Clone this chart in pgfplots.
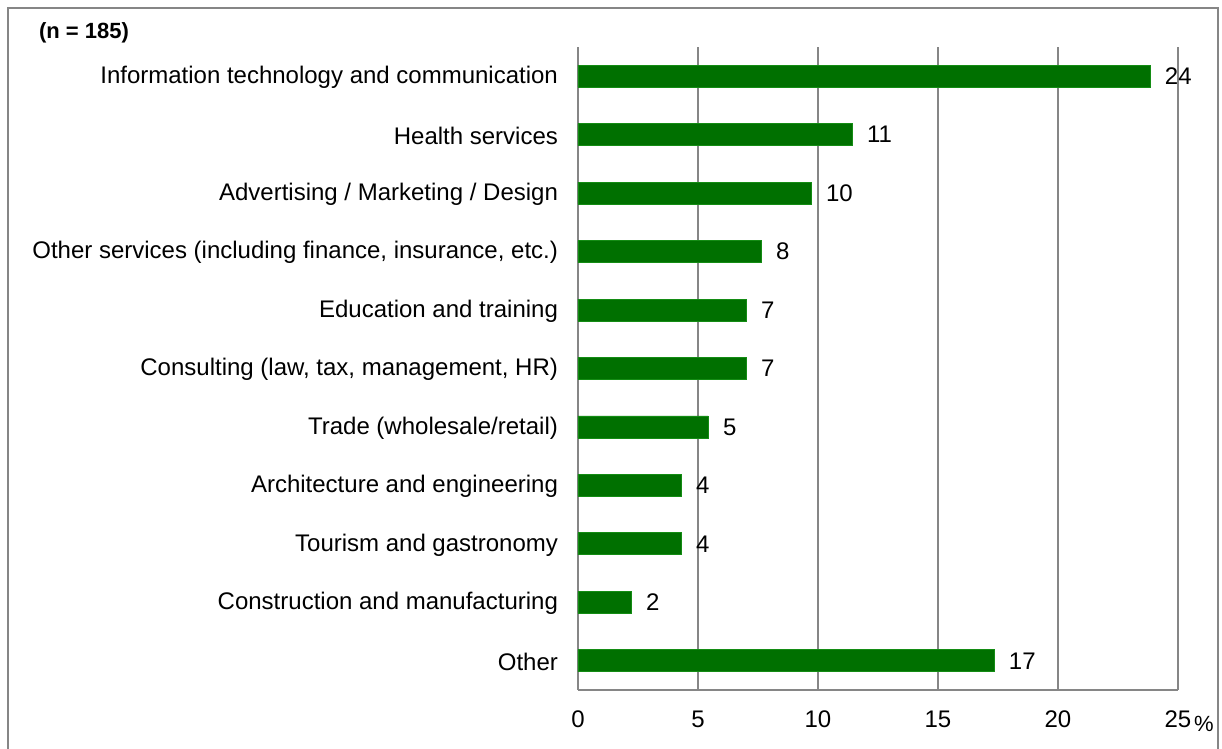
\documentclass[border=0pt]{standalone}
\usepackage{pgfplots}
\pgfplotsset{compat=1.18}
\usepackage{pgfplotstable}
\usepackage{fontspec}
\setmainfont{Liberation Sans}
\definecolor{bargreen}{RGB}{0,112,0}
\definecolor{gridgray}{RGB}{134,134,134}
\pgfplotstableread{
y x lab
10 23.83 24
9 11.42 11
8 9.71 10
7 7.63 8
6 7.0 7
5 7.0 7
4 5.42 5
3 4.29 4
2 4.29 4
1 2.21 2
0 17.33 17
}\datatab
\begin{document}
\begin{tikzpicture}
\path[use as bounding box] (0,0) rectangle (611pt,374.5pt);
\draw[gridgray, line width=0.8pt] (4pt,-5pt) -- (4pt,370.5pt) -- (609pt,370.5pt) -- (609pt,-5pt);
\node[anchor=west, font=\fontsize{11}{13}\selectfont\bfseries] at (16pt,358pt) {(n = 185)};
\begin{axis}[
  at={(289pt,29.5pt)}, anchor=south west,
  scale only axis, width=300pt, height=321.5pt,
  xmin=0, xmax=25, ymin=-0.5, ymax=10.5,
  xtick={0,5,10,15,20,25},
  ytick={0,...,10},
  yticklabels={Other,Construction and manufacturing,Tourism and gastronomy,Architecture and engineering,Trade (wholesale/retail),{Consulting (law, tax, management, HR)},Education and training,{Other services (including finance, insurance, etc.)},Advertising / Marketing / Design,Health services,Information technology and communication},
  major tick length=0pt,
  axis lines*=left,
  axis line style={gridgray, line width=0.8pt},
  xmajorgrids, grid style={gridgray, line width=0.8pt},
  ticklabel style={font=\fontsize{12}{14}\selectfont},
  yticklabel style={xshift=-6.5pt, yshift=-0.5pt},
  xticklabel style={yshift=-7pt},
  /pgf/number format/assume math mode=true,
  clip=false,
]
\addplot[xbar, bar width=11pt, fill=bargreen, draw={rgb,255:red,20;green,140;blue,20}, line width=0.4pt,
  point meta=explicit symbolic,
  nodes near coords, nodes near coords align={horizontal},
  every node near coord/.append style={anchor=west, xshift=4pt, font=\fontsize{12}{14}\selectfont, text=black}]
  table[x=x, y=y, meta=lab] {\datatab};
\node[anchor=west, font=\fontsize{11}{13}\selectfont] at (rel axis cs:1,0) [xshift=4.5pt, yshift=-17pt] {\%};
\end{axis}
\end{tikzpicture}
\end{document}
